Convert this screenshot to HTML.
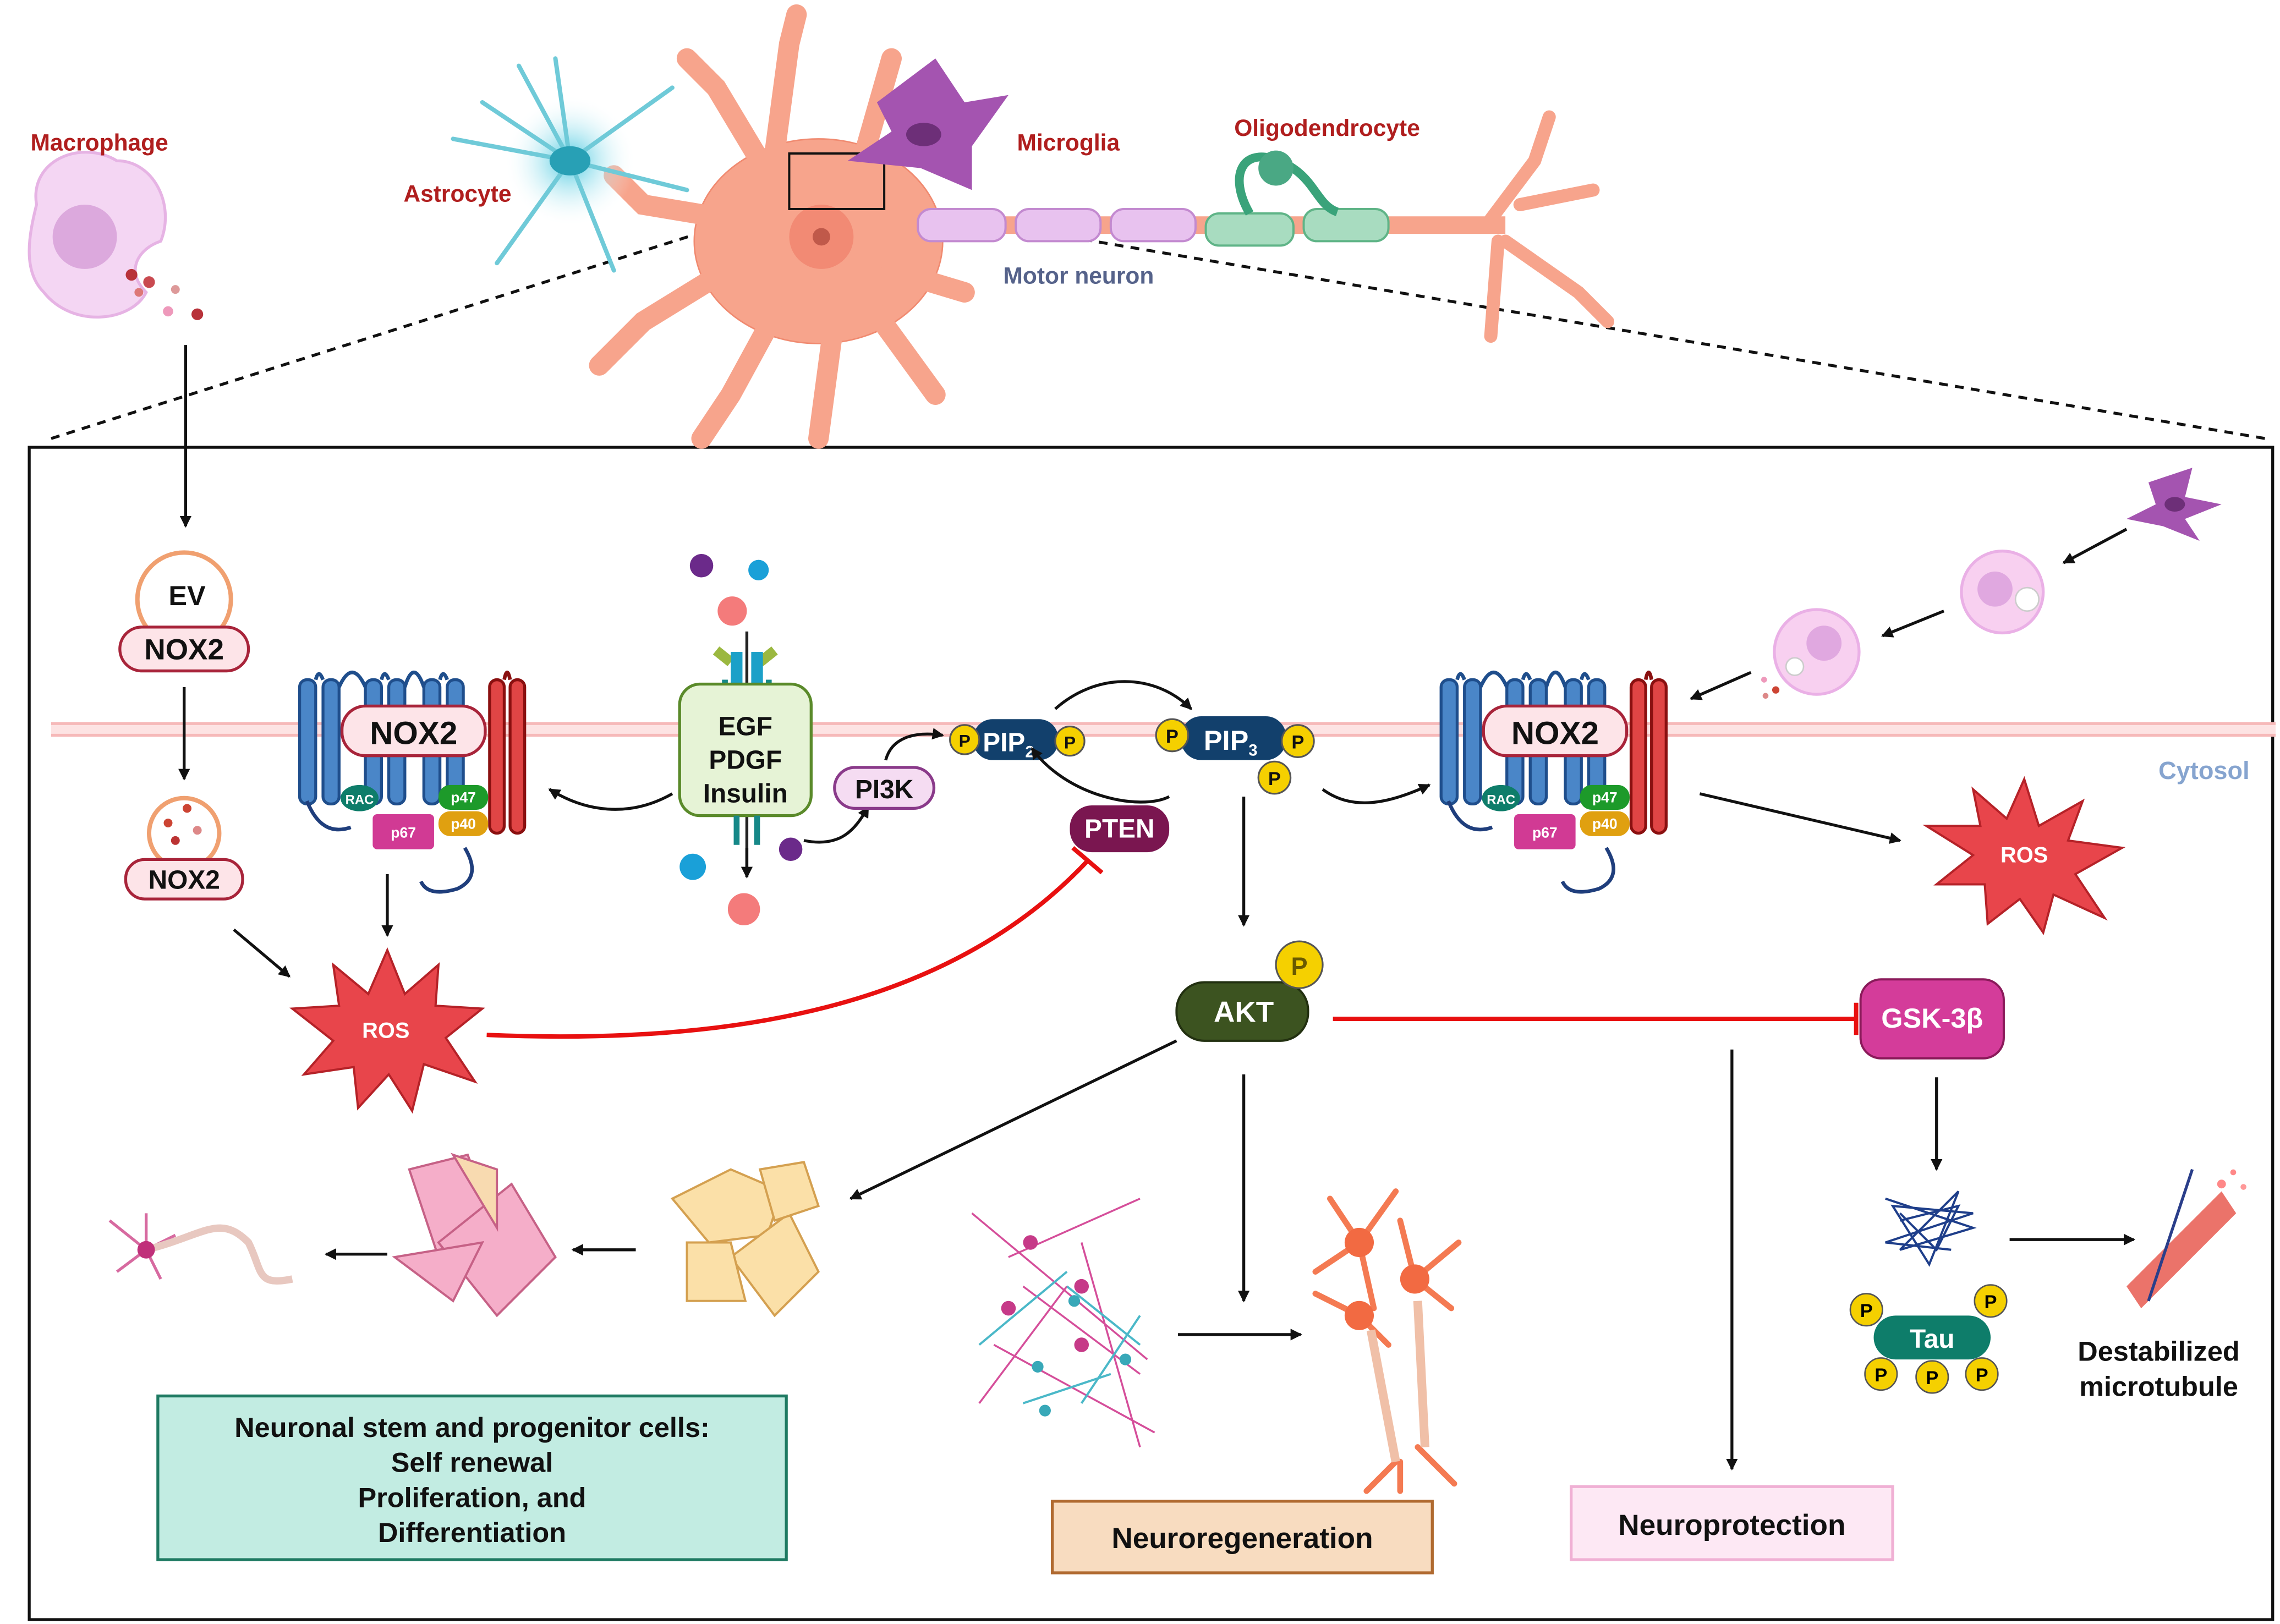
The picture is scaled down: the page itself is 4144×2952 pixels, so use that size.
<!DOCTYPE html>
<html><head><meta charset="utf-8"><style>
html,body{margin:0;padding:0;background:#fff}
svg{display:block}
text{font-family:"Liberation Sans",sans-serif;font-weight:bold}
</style></head><body>
<svg width="4144" height="2952" viewBox="0 0 1560 1111" preserveAspectRatio="none" xmlns="http://www.w3.org/2000/svg">
<defs>
<marker id="ah" markerWidth="8" markerHeight="8" refX="7" refY="4" orient="auto" markerUnits="userSpaceOnUse"><path d="M0,0 L8,4 L0,8 Z" fill="#111"/></marker>
<radialGradient id="glowc"><stop offset="0" stop-color="#4cc9e0"/><stop offset="1" stop-color="#fff" stop-opacity="0"/></radialGradient>
<radialGradient id="glowp"><stop offset="0" stop-color="#f2b3ee"/><stop offset="1" stop-color="#fff" stop-opacity="0"/></radialGradient>
</defs>
<rect width="1560" height="1111" fill="#fff"/>

<!-- dashed zoom lines -->
<path d="M35,300 L540,140" stroke="#111" stroke-width="2" stroke-dasharray="6,5" fill="none"/>
<path d="M600,140 L1550,300" stroke="#111" stroke-width="2" stroke-dasharray="6,5" fill="none"/>

<!-- main frame -->
<rect x="20" y="306" width="1535" height="802" fill="none" stroke="#111" stroke-width="2"/>

<!-- top neuron -->
<g fill="#f7a48c" stroke="#f08a70" stroke-width="1">
<ellipse cx="560" cy="165" rx="85" ry="70"/>
<path d="M520,110 L490,60 L470,40 M530,105 L540,30 L545,10 M590,110 L610,40 M500,150 L440,140 L420,120 M505,180 L440,220 L410,250 M530,215 L500,270 L480,300 M570,225 L560,300 M600,215 L640,270 M610,185 L660,200" stroke="#f7a48c" stroke-width="14" stroke-linecap="round" fill="none"/>
<rect x="630" y="148" width="400" height="12" fill="#f7a48c" stroke="none"/>
<path d="M1020,150 L1050,110 L1060,80 M1040,140 L1090,130 M1030,165 L1080,200 L1100,220 M1025,165 L1020,230" stroke="#f7a48c" stroke-width="9" stroke-linecap="round" fill="none"/>
</g>
<circle cx="562" cy="162" r="22" fill="#f28a74"/><circle cx="562" cy="162" r="6" fill="#c0594a"/>
<rect x="540" y="105" width="65" height="38" fill="none" stroke="#111" stroke-width="1.5"/>
<!-- myelin -->
<g fill="#e8c2ef" stroke="#c38ad0" stroke-width="1.5">
<rect x="628" y="143" width="60" height="22" rx="9"/><rect x="695" y="143" width="58" height="22" rx="9"/><rect x="760" y="143" width="58" height="22" rx="9"/>
</g>
<g fill="#a8dcc0" stroke="#5fb487" stroke-width="1.5">
<rect x="825" y="146" width="60" height="22" rx="9"/><rect x="892" y="143" width="58" height="22" rx="9"/>
</g>
<path d="M855,146 C840,120 850,100 875,110 C900,120 900,140 915,145" stroke="#3aa37a" stroke-width="6" fill="none"/>
<circle cx="873" cy="115" r="12" fill="#4aa884"/>
<!-- astrocyte -->
<circle cx="390" cy="110" r="45" fill="url(#glowc)"/>
<g stroke="#6fcad8" stroke-width="3" fill="none" stroke-linecap="round">
<path d="M390,110 L330,70 M390,110 L310,95 M390,110 L340,180 M390,110 L380,40 M390,110 L460,60 M390,110 L470,130 M390,110 L420,185 M390,110 L355,45"/>
</g>
<ellipse cx="390" cy="110" rx="14" ry="10" fill="#28a0b5"/>
<!-- microglia top -->
<path d="M600,70 L640,40 L660,70 L690,65 L665,100 L665,130 L630,115 L580,110 L610,90 Z" fill="#a454b0"/>
<ellipse cx="632" cy="92" rx="12" ry="8" fill="#6d2f78"/>
<!-- macrophage top-left -->
<path d="M25,140 C20,110 55,95 80,110 C105,110 120,140 110,165 C95,170 85,185 100,200 C90,220 50,225 30,200 C15,185 20,160 25,140 Z" fill="#f4d6f3" stroke="#e6b3e4" stroke-width="2"/>
<circle cx="58" cy="162" r="22" fill="#dca9dd"/>
<circle cx="90" cy="188" r="4" fill="#b8323a"/><circle cx="102" cy="193" r="4" fill="#c94a50"/><circle cx="95" cy="200" r="3" fill="#d77"/><circle cx="120" cy="198" r="3" fill="#d99"/><circle cx="115" cy="213" r="3.5" fill="#e9b"/><circle cx="135" cy="215" r="4" fill="#b8323a"/>

<text x="68" y="103" font-size="16" fill="#b01e1e" text-anchor="middle">Macrophage</text>
<text x="313" y="138" font-size="16" fill="#b01e1e" text-anchor="middle">Astrocyte</text>
<text x="731" y="103" font-size="16" fill="#b01e1e" text-anchor="middle">Microglia</text>
<text x="908" y="93" font-size="16" fill="#b01e1e" text-anchor="middle">Oligodendrocyte</text>
<text x="738" y="194" font-size="16" fill="#55628a" text-anchor="middle">Motor neuron</text>

<!-- membrane -->
<rect x="35" y="494" width="1522" height="10" fill="#fde3e3"/>
<line x1="35" y1="495" x2="1557" y2="495" stroke="#f6b9b9" stroke-width="2"/>
<line x1="35" y1="503" x2="1557" y2="503" stroke="#f6b9b9" stroke-width="2"/>
<text x="1508" y="533" font-size="17" fill="#86a4cf" font-weight="normal" text-anchor="middle">Cytosol</text>

<!-- left column: EV -->
<line x1="127" y1="236" x2="127" y2="360" stroke="#111" stroke-width="2" marker-end="url(#ah)"/>
<circle cx="126" cy="410" r="32" fill="#fff" stroke="#f0a070" stroke-width="3"/>
<text x="128" y="414" font-size="19" text-anchor="middle" fill="#111">EV</text>
<rect x="82" y="429" width="88" height="30" rx="15" fill="#fde4e8" stroke="#a8243a" stroke-width="2"/>
<text x="126" y="451" font-size="20" text-anchor="middle" fill="#111">NOX2</text>
<line x1="126" y1="470" x2="126" y2="533" stroke="#111" stroke-width="2" marker-end="url(#ah)"/>
<circle cx="126" cy="570" r="24" fill="#fff" stroke="#f0a070" stroke-width="3"/>
<circle cx="115" cy="563" r="3" fill="#c43"/><circle cx="128" cy="553" r="3" fill="#c43"/><circle cx="135" cy="568" r="3" fill="#d88"/><circle cx="120" cy="575" r="3" fill="#b33"/>
<rect x="86" y="588" width="80" height="27" rx="13" fill="#fde4e8" stroke="#a8243a" stroke-width="2"/>
<text x="126" y="608" font-size="18" text-anchor="middle" fill="#111">NOX2</text>
<line x1="160" y1="636" x2="198" y2="668" stroke="#111" stroke-width="2" marker-end="url(#ah)"/>

<!-- ROS left -->
<polygon points="265,650 277,680 300,660 298,688 330,690 305,710 325,740 290,728 282,760 266,735 245,758 242,730 208,735 228,712 200,690 232,688 228,660 252,680" fill="#e8454b" stroke="#b52228" stroke-width="1.5"/>
<text x="264" y="710" font-size="15" text-anchor="middle" fill="#fff">ROS</text>

<!-- NOX2 complex template -->
<g id="nox">
<g stroke="#1f4e8c" stroke-width="2" fill="#4a86c8">
<rect x="205" y="465" width="11" height="85" rx="5"/><rect x="221" y="465" width="11" height="85" rx="5"/>
<rect x="250" y="465" width="11" height="85" rx="5"/><rect x="266" y="465" width="11" height="85" rx="5"/>
<rect x="290" y="465" width="11" height="85" rx="5"/><rect x="306" y="465" width="11" height="85" rx="5"/>
</g>
<path d="M216,465 q2,-8 5,0 M261,465 q2,-8 5,0 M301,465 q2,-8 5,0 M232,470 q9,-20 18,0 M277,470 q6,-20 13,0" stroke="#1f4e8c" stroke-width="2.5" fill="none"/>
<g stroke="#8a1010" stroke-width="2" fill="#e04545">
<rect x="335" y="465" width="10" height="105" rx="5"/><rect x="349" y="465" width="10" height="105" rx="5"/>
</g>
<path d="M345,465 q2,-10 4,0" stroke="#8a1010" stroke-width="2.5" fill="none"/>
<path d="M210,548 q10,25 30,18 M318,580 q12,20 -5,28 q-20,6 -25,-5" stroke="#1f3e7c" stroke-width="2.5" fill="none"/>
<rect x="234" y="483" width="98" height="34" rx="16" fill="#fde4e8" stroke="#a8243a" stroke-width="2"/>
<text x="283" y="509" font-size="22" text-anchor="middle" fill="#111">NOX2</text>
<ellipse cx="246" cy="546" rx="13" ry="9" fill="#0e7d6a"/><text x="246" y="550" font-size="9" fill="#fff" font-weight="normal" text-anchor="middle">RAC</text>
<rect x="300" y="537" width="34" height="17" rx="8" fill="#1d9a2a"/><text x="317" y="549" font-size="10" fill="#fff" font-weight="normal" text-anchor="middle">p47</text>
<rect x="300" y="555" width="34" height="17" rx="8" fill="#e0a010"/><text x="317" y="567" font-size="10" fill="#fff" font-weight="normal" text-anchor="middle">p40</text>
<rect x="255" y="557" width="42" height="24" rx="3" fill="#d13a94"/><text x="276" y="573" font-size="10" fill="#fff" font-weight="normal" text-anchor="middle">p67</text>
</g>
<use href="#nox" transform="translate(781,0)"/>

<line x1="265" y1="598" x2="265" y2="640" stroke="#111" stroke-width="2" marker-end="url(#ah)"/>
<path d="M460,543 C430,560 400,555 376,540" stroke="#111" stroke-width="2" fill="none" marker-end="url(#ah)"/>

<!-- receptor -->
<circle cx="480" cy="387" r="8" fill="#6b2a8a"/><circle cx="519" cy="390" r="7" fill="#1aa0d8"/><circle cx="501" cy="418" r="10" fill="#f47b7b"/>
<line x1="511" y1="432" x2="511" y2="600" stroke="#222" stroke-width="2"/>
<path d="M490,445 l10,8 M530,445 l-10,8" stroke="#9bb840" stroke-width="7"/>
<rect x="500" y="446" width="8" height="22" fill="#1ba0c8"/><rect x="514" y="446" width="8" height="22" fill="#1ba0c8"/>
<path d="M496,465 v10 M526,465 v10" stroke="#168888" stroke-width="4"/>
<rect x="465" y="468" width="90" height="90" rx="14" fill="#e6f3d6" stroke="#5a8a2a" stroke-width="2"/>
<text x="510" y="503" font-size="18" text-anchor="middle" fill="#111">EGF</text>
<text x="510" y="526" font-size="18" text-anchor="middle" fill="#111">PDGF</text>
<text x="510" y="549" font-size="18" text-anchor="middle" fill="#111">Insulin</text>
<path d="M504,558 v20 M518,558 v20" stroke="#168888" stroke-width="4"/>
<line x1="511" y1="580" x2="511" y2="600" stroke="#111" stroke-width="2" marker-end="url(#ah)"/>
<circle cx="474" cy="593" r="9" fill="#1aa0d8"/><circle cx="541" cy="581" r="8" fill="#6b2a8a"/><circle cx="509" cy="622" r="11" fill="#f47b7b"/>

<path d="M550,575 C575,580 585,568 594,552" stroke="#111" stroke-width="2" fill="none" marker-end="url(#ah)"/>
<rect x="571" y="525" width="68" height="28" rx="14" fill="#f5dcf2" stroke="#8a3a8a" stroke-width="2"/>
<text x="605" y="546" font-size="18" text-anchor="middle" fill="#111">PI3K</text>
<path d="M606,520 C610,505 625,500 645,503" stroke="#111" stroke-width="2" fill="none" marker-end="url(#ah)"/>

<!-- PIP2 -->
<rect x="666" y="492" width="58" height="28" rx="13" fill="#12406c"/>
<text x="690" y="514" font-size="18" fill="#fff" text-anchor="middle">PIP<tspan font-size="11" dy="4">2</tspan></text>
<circle cx="660" cy="506" r="10" fill="#f5d000" stroke="#555" stroke-width="1.2"/><text x="660" y="511" font-size="12" text-anchor="middle" fill="#111">P</text>
<circle cx="732" cy="507" r="10" fill="#f5d000" stroke="#555" stroke-width="1.2"/><text x="732" y="512" font-size="12" text-anchor="middle" fill="#111">P</text>
<!-- PIP3 -->
<rect x="808" y="490" width="72" height="30" rx="14" fill="#12406c"/>
<text x="842" y="513" font-size="19" fill="#fff" text-anchor="middle">PIP<tspan font-size="11" dy="4">3</tspan></text>
<circle cx="802" cy="503" r="11" fill="#f5d000" stroke="#555" stroke-width="1.2"/><text x="802" y="508" font-size="13" text-anchor="middle" fill="#111">P</text>
<circle cx="888" cy="507" r="11" fill="#f5d000" stroke="#555" stroke-width="1.2"/><text x="888" y="512" font-size="13" text-anchor="middle" fill="#111">P</text>
<circle cx="872" cy="532" r="11" fill="#f5d000" stroke="#555" stroke-width="1.2"/><text x="872" y="537" font-size="13" text-anchor="middle" fill="#111">P</text>
<path d="M722,485 C750,460 790,460 815,485" stroke="#111" stroke-width="2" fill="none" marker-end="url(#ah)"/>
<path d="M800,545 C780,555 730,545 706,512" stroke="#111" stroke-width="2" fill="none" marker-end="url(#ah)"/>
<rect x="732" y="551" width="68" height="32" rx="15" fill="#7a1650"/>
<text x="766" y="573" font-size="18" fill="#fff" text-anchor="middle">PTEN</text>
<!-- ROS inhibition -->
<path d="M333,708 C500,715 650,690 745,588" stroke="#e81010" stroke-width="3" fill="none"/>
<line x1="734" y1="580" x2="754" y2="597" stroke="#e81010" stroke-width="3"/>

<line x1="851" y1="545" x2="851" y2="633" stroke="#111" stroke-width="2" marker-end="url(#ah)"/>
<rect x="805" y="672" width="90" height="40" rx="19" fill="#3c5320" stroke="#223010" stroke-width="1.5"/>
<text x="851" y="699" font-size="20" fill="#fff" text-anchor="middle">AKT</text>
<circle cx="889" cy="660" r="16" fill="#f5d000" stroke="#555" stroke-width="1.2"/><text x="889" y="667" font-size="17" text-anchor="middle" fill="#6a5a00" font-weight="normal">P</text>

<line x1="912" y1="697" x2="1270" y2="697" stroke="#e81010" stroke-width="3"/>
<line x1="1270" y1="686" x2="1270" y2="708" stroke="#e81010" stroke-width="3"/>
<rect x="1273" y="670" width="98" height="54" rx="14" fill="#d43c9a" stroke="#8a1a5a" stroke-width="1.5"/>
<text x="1322" y="703" font-size="19" fill="#fff" text-anchor="middle">GSK-3β</text>
<line x1="1325" y1="737" x2="1325" y2="800" stroke="#111" stroke-width="2" marker-end="url(#ah)"/>

<!-- tau tangle -->
<g stroke="#1e3e8a" stroke-width="1.5" fill="none">
<path d="M1290,820 l60,20 l-50,15 l40,-40 l-20,50 l-25,-40 l55,5 l-60,20 l45,5 M1300,830 l25,25 l15,-30 l-40,10"/>
</g>
<rect x="1282" y="900" width="80" height="30" rx="15" fill="#0e7d6a"/>
<text x="1322" y="922" font-size="18" fill="#fff" text-anchor="middle">Tau</text>
<g font-size="13">
<circle cx="1277" cy="896" r="11" fill="#f5d000" stroke="#555"/><text x="1277" y="901" text-anchor="middle">P</text>
<circle cx="1362" cy="890" r="11" fill="#f5d000" stroke="#555"/><text x="1362" y="895" text-anchor="middle">P</text>
<circle cx="1287" cy="940" r="11" fill="#f5d000" stroke="#555"/><text x="1287" y="945" text-anchor="middle">P</text>
<circle cx="1322" cy="942" r="11" fill="#f5d000" stroke="#555"/><text x="1322" y="947" text-anchor="middle">P</text>
<circle cx="1356" cy="940" r="11" fill="#f5d000" stroke="#555"/><text x="1356" y="945" text-anchor="middle">P</text>
</g>
<line x1="1375" y1="848" x2="1460" y2="848" stroke="#111" stroke-width="2" marker-end="url(#ah)"/>
<path d="M1455,880 L1520,815 L1530,830 L1465,895 Z" fill="#e85a50" opacity="0.85"/>
<path d="M1470,890 L1500,800" stroke="#2a3e8a" stroke-width="2"/>
<circle cx="1520" cy="810" r="3" fill="#f88"/><circle cx="1528" cy="802" r="2" fill="#f88"/><circle cx="1535" cy="812" r="2" fill="#f99"/>
<text x="1477" y="931" font-size="19" text-anchor="middle" fill="#111">Destabilized</text>
<text x="1477" y="955" font-size="19" text-anchor="middle" fill="#111">microtubule</text>

<!-- neuroprotection -->
<line x1="1185" y1="718" x2="1185" y2="1005" stroke="#111" stroke-width="2" marker-end="url(#ah)"/>
<rect x="1075" y="1017" width="220" height="50" fill="#fde8f4" stroke="#f0b0d4" stroke-width="2"/>
<text x="1185" y="1050" font-size="20" text-anchor="middle" fill="#111">Neuroprotection</text>

<!-- neuroregeneration -->
<line x1="851" y1="735" x2="851" y2="890" stroke="#111" stroke-width="2" marker-end="url(#ah)"/>
<line x1="806" y1="913" x2="890" y2="913" stroke="#111" stroke-width="2" marker-end="url(#ah)"/>
<g stroke="#d54e9a" stroke-width="1.3" fill="none">
<path d="M665,830 l120,100 M690,860 l90,-40 M700,880 l80,60 M680,920 l110,60 M740,850 l40,140 M670,960 l60,-80"/>
</g>
<g stroke="#4ab8c8" stroke-width="1.5" fill="none"><path d="M670,920 l60,-50 M700,960 l60,-20 M730,880 l50,40 M740,960 l40,-60"/></g>
<g fill="#c63a88"><circle cx="705" cy="850" r="5"/><circle cx="740" cy="880" r="5"/><circle cx="690" cy="895" r="5"/><circle cx="740" cy="920" r="5"/></g>
<g fill="#38a8b8"><circle cx="735" cy="890" r="4"/><circle cx="710" cy="935" r="4"/><circle cx="715" cy="965" r="4"/><circle cx="770" cy="930" r="4"/></g>
<g stroke="#f47a52" stroke-width="4" fill="none" stroke-linecap="round">
<path d="M930,850 l-20,-30 M930,850 l25,-35 M930,850 l-30,20 M930,850 l10,45 M968,875 l30,-25 M968,875 l-10,-40 M968,875 l25,20 M930,900 l-30,-15 M930,900 l20,20 M955,1000 l-20,20 M970,990 l25,25 M958,1000 l0,20"/>
</g>
<path d="M938,910 L955,1000 M970,890 L975,990" stroke="#f0c0a8" stroke-width="6"/>
<g fill="#f26a42"><circle cx="930" cy="850" r="10"/><circle cx="968" cy="875" r="10"/><circle cx="930" cy="900" r="10"/></g>
<rect x="720" y="1027" width="260" height="49" fill="#f8dcc0" stroke="#b06a30" stroke-width="2"/>
<text x="850" y="1059" font-size="20" text-anchor="middle" fill="#111">Neuroregeneration</text>

<!-- stem cells -->
<line x1="805" y1="712" x2="582" y2="820" stroke="#111" stroke-width="2" marker-end="url(#ah)"/>
<g fill="#fbe0a8" stroke="#d4a050" stroke-width="1.5">
<path d="M460,820 l40,-20 l35,15 l-10,30 l-40,5 Z"/><path d="M500,860 l40,-30 l20,40 l-30,30 Z"/><path d="M470,850 l30,0 l10,40 l-40,0 Z"/><path d="M520,800 l30,-5 l10,30 l-30,10 Z"/>
</g>
<line x1="435" y1="855" x2="392" y2="855" stroke="#111" stroke-width="2" marker-end="url(#ah)"/>
<g fill="#f5a6c4" stroke="#c0507a" stroke-width="1.5" opacity="0.9">
<path d="M280,800 l40,-10 l15,40 l-35,30 Z"/><path d="M300,850 l50,-40 l30,50 l-40,40 Z"/><path d="M270,860 l60,-10 l-20,40 Z"/><path d="M310,790 l30,10 l0,40 Z" fill="#f8d6a8"/>
</g>
<line x1="265" y1="858" x2="223" y2="858" stroke="#111" stroke-width="2" marker-end="url(#ah)"/>
<g stroke="#d76aa0" stroke-width="2" fill="none"><path d="M75,835 l25,20 M80,870 l20,-15 M100,830 l0,25 M120,845 l-20,10 M110,875 l-10,-20"/></g>
<path d="M100,855 C140,845 150,830 170,850 C180,870 175,880 200,875" stroke="#e8c8c0" stroke-width="5" fill="none"/>
<circle cx="100" cy="855" r="6" fill="#c0307a"/>
<rect x="108" y="955" width="430" height="112" fill="#c2ece2" stroke="#1e7a62" stroke-width="2"/>
<text x="323" y="983" font-size="19" text-anchor="middle" fill="#111">Neuronal stem and progenitor cells:</text>
<text x="323" y="1007" font-size="19" text-anchor="middle" fill="#111">Self renewal</text>
<text x="323" y="1031" font-size="19" text-anchor="middle" fill="#111">Proliferation, and</text>
<text x="323" y="1055" font-size="19" text-anchor="middle" fill="#111">Differentiation</text>

<!-- right side -->
<path d="M905,540 C925,555 950,550 978,537" stroke="#111" stroke-width="2" fill="none" marker-end="url(#ah)"/>
<line x1="1163" y1="543" x2="1300" y2="575" stroke="#111" stroke-width="2" marker-end="url(#ah)"/>
<polygon points="1385,533 1395,565 1425,548 1415,575 1452,580 1420,598 1440,628 1405,612 1398,638 1382,615 1360,632 1358,605 1325,605 1350,585 1318,565 1355,565 1350,540 1373,560" fill="#e8454b" stroke="#b52228" stroke-width="1.5"/>
<text x="1385" y="590" font-size="15" text-anchor="middle" fill="#fff">ROS</text>
<path d="M1470,330 L1500,320 L1495,340 L1520,345 L1495,355 L1505,370 L1480,360 L1455,355 L1475,345 Z" fill="#a454b0"/>
<ellipse cx="1488" cy="345" rx="7" ry="5" fill="#6d2f78"/>
<line x1="1455" y1="362" x2="1412" y2="385" stroke="#111" stroke-width="2" marker-end="url(#ah)"/>
<circle cx="1370" cy="405" r="28" fill="#f8d0f0" stroke="#eab0e6" stroke-width="2"/>
<circle cx="1365" cy="403" r="12" fill="#e0a8e0"/><circle cx="1387" cy="410" r="8" fill="#fff" stroke="#ccc"/>
<line x1="1330" y1="418" x2="1288" y2="435" stroke="#111" stroke-width="2" marker-end="url(#ah)"/>
<circle cx="1243" cy="446" r="29" fill="#f8d0f0" stroke="#eab0e6" stroke-width="2"/>
<circle cx="1248" cy="440" r="12" fill="#e0a8e0"/><circle cx="1228" cy="456" r="6" fill="#fff" stroke="#ccc"/>
<circle cx="1207" cy="465" r="2" fill="#e9b"/><circle cx="1215" cy="472" r="2.5" fill="#c43"/><circle cx="1208" cy="476" r="2" fill="#d88"/>
<line x1="1198" y1="460" x2="1157" y2="478" stroke="#111" stroke-width="2" marker-end="url(#ah)"/>
</svg>
</body></html>
